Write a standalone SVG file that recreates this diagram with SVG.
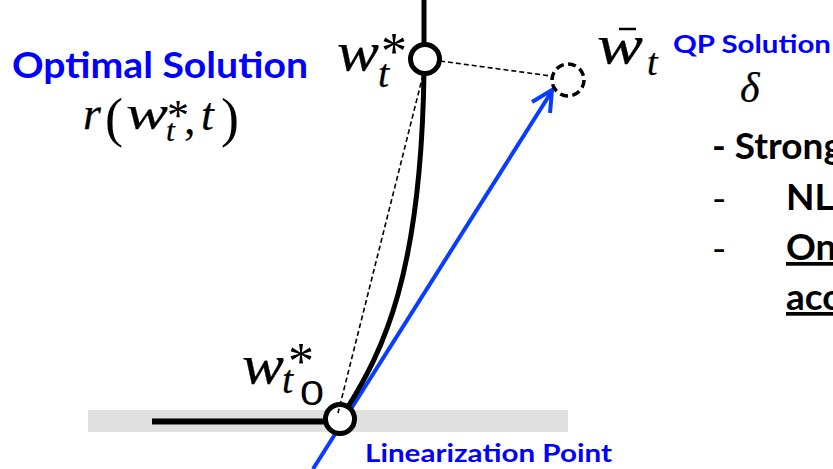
<svg xmlns="http://www.w3.org/2000/svg" width="833" height="469" viewBox="0 0 833 469">
<style>
.sb{font-family:Lato,"Open Sans","Liberation Sans",sans-serif;font-weight:700}
.blue{fill:#0000ff}
.blk{fill:#000}
.m{font-family:"Liberation Serif",serif;font-style:italic;fill:#000;stroke:#000;stroke-width:0.25}
.mu{font-family:"Liberation Serif",serif;fill:#000}
.ul{text-decoration:underline}
.thick{fill:none;stroke:#000;stroke-width:5}
.dash{fill:none;stroke:#000;stroke-width:1.6;stroke-dasharray:5 3}
.node{fill:#fff;stroke:#000;stroke-width:5}
</style>
<rect width="833" height="469" fill="#fff"/>
<rect id="band" x="88" y="410" width="480" height="22" fill="#e0e0e0"/>
<g id="connectors">
<line x1="424" y1="0" x2="424" y2="46" class="thick"/>
<line x1="152" y1="421.5" x2="326" y2="421.5" stroke="#000" stroke-width="6"/>
<line x1="313" y1="469" x2="552" y2="91" stroke="#0a3cff" stroke-width="4"/>
<polyline points="532,102 552,90 550,113" fill="none" stroke="#0a3cff" stroke-width="4" stroke-linejoin="miter"/>
<path d="M 346 410 C 384 350, 421 273, 424 73" class="thick"/>
</g>
<g id="node-opt"><circle cx="425" cy="59" r="14.5" class="node"/></g>
<g id="node-qp"><circle cx="568" cy="80" r="16" fill="none" stroke="#000" stroke-width="3.5" stroke-dasharray="8 4.5"/></g>
<g id="node-lin"><circle cx="340" cy="419" r="14.5" class="node"/></g>
<g id="dashed">
<line x1="440" y1="61" x2="551" y2="76" class="dash"/>
<line x1="423" y1="75" x2="338" y2="413" class="dash"/>
</g>
<g id="label-opt">
<text x="12" y="78" class="sb blue" font-size="37" textLength="296" lengthAdjust="spacingAndGlyphs">Optimal Solution</text>
<text x="83" y="129" class="m" font-size="46">r</text>
<text x="105" y="136" class="mu" font-size="54">(</text>
<text x="126" y="129" class="m" font-size="48" textLength="42" lengthAdjust="spacingAndGlyphs">w</text>
<text x="167" y="130" class="mu" font-size="44">*</text>
<text x="166" y="141" class="m" font-size="32">t</text>
<text x="184" y="134" class="mu" font-size="46">,</text>
<text x="201" y="130" class="m" font-size="46">t</text>
<text x="221" y="136" class="mu" font-size="54">)</text>
</g>
<g id="label-wt">
<text x="337" y="70" class="m" font-size="54" textLength="42" lengthAdjust="spacingAndGlyphs">w</text>
<text x="381" y="69" class="mu" font-size="52">*</text>
<text x="378" y="87" class="m" font-size="40">t</text>
</g>
<g id="label-wbar">
<text x="597" y="63" class="m" font-size="54" textLength="46" lengthAdjust="spacingAndGlyphs">w</text>
<line x1="619" y1="29" x2="636" y2="29" stroke="#000" stroke-width="2.5"/>
<text x="647" y="75" class="m" font-size="38">t</text>
</g>
<g id="label-qp">
<text x="673" y="53" class="sb blue" font-size="25" textLength="158" lengthAdjust="spacingAndGlyphs">QP Solution</text>
<text x="740" y="102" class="m" font-size="42">δ</text>
</g>
<g id="label-wt0">
<text x="242" y="383" class="m" font-size="54" textLength="42" lengthAdjust="spacingAndGlyphs">w</text>
<text x="288" y="379" class="mu" font-size="52">*</text>
<text x="282" y="393" class="m" font-size="40">t</text>
<text x="300" y="405" font-family="Liberation Sans, sans-serif" font-size="35" textLength="24" lengthAdjust="spacingAndGlyphs">0</text>
</g>
<g id="label-lin">
<text x="365" y="462" class="sb blue" font-size="24" textLength="247" lengthAdjust="spacingAndGlyphs">Linearization Point</text>
</g>
<g id="notes">
<text x="712" y="159" class="sb blk" font-size="37">- Strong</text>
<text x="713" y="210" class="mu" font-size="37">-</text>
<text x="786" y="210" class="sb blk" font-size="37">NL</text>
<text x="713" y="260" class="mu" font-size="37">-</text>
<text x="786" y="260" class="sb blk ul" font-size="37">On</text>
<text x="786" y="310" class="sb blk ul" font-size="37">acc</text>
</g>
</svg>
